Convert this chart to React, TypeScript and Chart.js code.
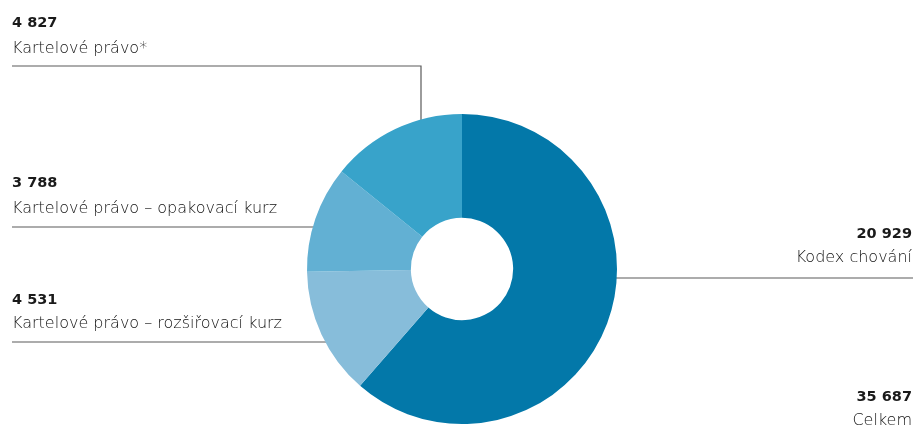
import React, { useEffect, useRef } from "react";
import { Chart, registerables } from "chart.js";

Chart.register(...registerables);

// Data (clockwise from 12 o'clock)
const categories = [
  "Kodex chování",
  "Kartelové právo – rozšiřovací kurz",
  "Kartelové právo – opakovací kurz",
  "Kartelové právo*",
];
const values = [20929, 4531, 3788, 4827];
const valueLabels = ["20 929", "4 531", "3 788", "4 827"];
const totalLabel = "35 687";
const totalCaption = "Celkem";
const colors = ["#0378A9", "#87BDDA", "#62B0D3", "#38A3CA"];

const FONT = "'DejaVu Sans', sans-serif";

const labelsPlugin = {
  id: "leaderLabels",
  beforeDatasetsDraw(chart: any) {
    const ctx = chart.ctx;
    const arc = chart.getDatasetMeta(0).data[0] as any;
    if (!arc) return;
    const cx = arc.x;
    const cy = arc.y;
    const mid = (arc.outerRadius + arc.innerRadius) / 2;
    ctx.save();
    ctx.strokeStyle = "#5a5a5a";
    ctx.lineWidth = 1.2;
    ctx.beginPath();
    // Kartelové právo*
    ctx.moveTo(12, 66);
    ctx.lineTo(421, 66);
    ctx.lineTo(421, cy - mid);
    // opakovací
    ctx.moveTo(12, 227);
    ctx.lineTo(cx - mid, 227);
    // rozšiřovací
    ctx.moveTo(12, 342);
    ctx.lineTo(cx - mid, 342);
    // Kodex
    ctx.moveTo(cx + mid, 278);
    ctx.lineTo(913, 278);
    ctx.stroke();
    ctx.restore();
  },
  afterDatasetsDraw(chart: any) {
    const ctx = chart.ctx as any;
    ctx.save();
    ctx.textBaseline = "alphabetic";
    const num = (t: string, x: number, y: number, align: CanvasTextAlign) => {
      ctx.font = `700 14.5px ${FONT}`;
      ctx.fillStyle = "#1a1a1a";
      ctx.textAlign = align;
      ctx.fillText(t, x, y);
    };
    const lab = (t: string, x: number, y: number, align: CanvasTextAlign) => {
      ctx.font = `200 16px ${FONT}`;
      ctx.fillStyle = "#111111";
      ctx.textAlign = align;
      ctx.fillText(t, x, y);
    };
    num(valueLabels[3], 12, 27, "left");
    lab(categories[3], 12, 53, "left");
    num(valueLabels[2], 12, 187, "left");
    lab(categories[2], 12, 213, "left");
    num(valueLabels[1], 12, 304, "left");
    lab(categories[1], 12, 328, "left");
    num(valueLabels[0], 912, 238, "right");
    lab(categories[0], 912, 262, "right");
    num(totalLabel, 912, 401, "right");
    lab(totalCaption, 912, 425, "right");
    ctx.restore();
  },
};

export default function App() {
  const ref = useRef<HTMLCanvasElement | null>(null);
  useEffect(() => {
    if (!ref.current) return;
    const chart = new Chart(ref.current, {
      type: "doughnut",
      data: {
        labels: categories,
        datasets: [
          {
            data: values,
            backgroundColor: colors,
            borderWidth: 0,
            hoverOffset: 0,
            offset: 0,
          },
        ],
      },
      options: {
        animation: false,
        responsive: true,
        maintainAspectRatio: false,
        cutout: "33%",
        rotation: 0,
        layout: { padding: { top: 114, bottom: 1, left: 150, right: 142 } },
        plugins: { legend: { display: false }, tooltip: { enabled: false } },
      },
      plugins: [labelsPlugin],
    });
    return () => chart.destroy();
  }, []);
  return (
    <div style={{ position: "fixed", left: 0, top: 0, width: 916, height: 425, background: "#fff" }}>
      <canvas ref={ref} />
    </div>
  );
}
